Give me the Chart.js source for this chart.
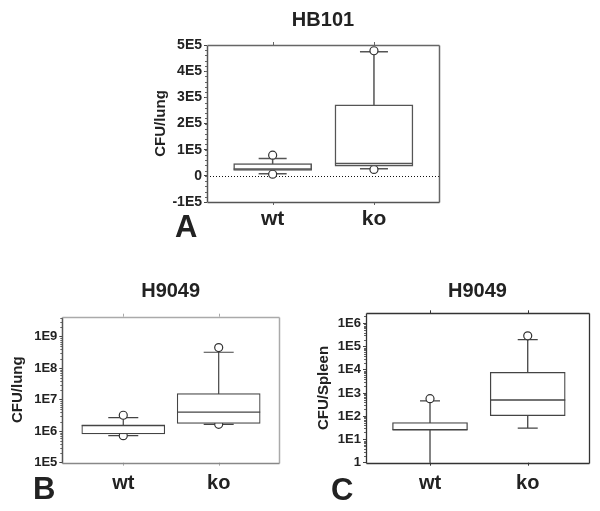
<!DOCTYPE html>
<html><head><meta charset="utf-8">
<script src="https://cdn.jsdelivr.net/npm/chart.js@4/dist/chart.umd.min.js"></script>
<style>
html,body{margin:0;padding:0;width:600px;height:511px;overflow:hidden;background:#fff;}
canvas{position:absolute;}
.lbl{position:absolute;font:bold 31px "Liberation Sans",Arial,sans-serif;line-height:31px;color:#222;}
</style></head><body>
<canvas id="cA" width="340" height="250" style="left:140px;top:0px"></canvas>
<canvas id="cB" width="300" height="241" style="left:0px;top:270px"></canvas>
<canvas id="cC" width="300" height="241" style="left:300px;top:270px"></canvas>
<div class="lbl" style="left:175px;top:211px">A</div>
<div class="lbl" style="left:33px;top:473px">B</div>
<div class="lbl" style="left:331px;top:474px">C</div>
<script>
// ---------- data ----------
const categories = ['wt', 'ko'];

// Panel A: HB101, CFU/lung (linear)
const aTitle = 'HB101';
const aYTitle = 'CFU/lung';
const aWhiskerLow  = [7800, 27200];
const aQ1          = [20600, 37300];
const aMedian      = [25700, 46700];
const aQ3          = [46700, 271000];
const aWhiskerHigh = [66100, 474000];
const aOutliers    = [[79000, 6200], [478000, 24500]];
const aYTicks      = [-100000, 0, 100000, 200000, 300000, 400000, 500000];
const aYTickLabels = ['-1E5', '0', '1E5', '2E5', '3E5', '4E5', '5E5'];

// Panel B: H9049, CFU/lung (log)
const bTitle = 'H9049';
const bYTitle = 'CFU/lung';
const bWhiskerLow  = [7.2e5, 1.65e6];
const bQ1          = [8.15e5, 1.78e6];
const bMedian      = [1.5e6, 4.0e6];
const bQ3          = [1.6e6, 1.55e7];
const bWhiskerHigh = [2.7e6, 3.2e8];
const bOutliers    = [[3.2e6, 7.2e5], [4.5e8, 1.65e6]];
const bYTicks      = [1e5, 1e6, 1e7, 1e8, 1e9];
const bYTickLabels = ['1E5', '1E6', '1E7', '1E8', '1E9'];

// Panel C: H9049, CFU/Spleen (log)
const cTitle = 'H9049';
const cYTitle = 'CFU/Spleen';
const cWhiskerLow  = [1, 31];
const cQ1          = [25.5, 105];
const cMedian      = [26, 500];
const cQ3          = [53, 7800];
const cWhiskerHigh = [455, 2.0e5];
const cOutliers    = [[570], [2.9e5]];
const cYTicks      = [1, 10, 100, 1000, 10000, 100000, 1000000];
const cYTickLabels = ['1', '1E1', '1E2', '1E3', '1E4', '1E5', '1E6'];

// ---------- drawing ----------
const FONT = '"Liberation Sans", Arial, sans-serif';
const TEXT = '#222';

function boxParts(p) {
  return {
    id: 'boxparts',
    beforeDatasetsDraw(chart) {
      const {ctx, chartArea: a, scales: {x, y}} = chart;
      ctx.save();
      if (p.zeroLine) {
        const py = Math.round(y.getPixelForValue(0)) + 0.5;
        ctx.strokeStyle = '#111'; ctx.lineWidth = 1; ctx.setLineDash([1, 2]);
        ctx.beginPath(); ctx.moveTo(a.left, py); ctx.lineTo(a.right, py); ctx.stroke();
        ctx.setLineDash([]);
      }
      ctx.strokeStyle = p.color; ctx.lineWidth = p.lw;
      categories.forEach((c, i) => {
        const px = x.getPixelForValue(i);
        const yl = y.getPixelForValue(p.low[i]);
        const yh = y.getPixelForValue(p.high[i]);
        ctx.beginPath();
        ctx.moveTo(px, yl); ctx.lineTo(px, yh);
        ctx.moveTo(px - p.cap / 2, yh); ctx.lineTo(px + p.cap / 2, yh);
        if (p.low[i] > y.min) { ctx.moveTo(px - p.cap / 2, yl); ctx.lineTo(px + p.cap / 2, yl); }
        ctx.stroke();
      });
      ctx.restore();
    },
    afterDatasetDraw(chart, args) {
      if (args.index !== 0) return;
      const {ctx, scales: {x, y}} = chart;
      const meta = chart.getDatasetMeta(0);
      ctx.save();
      ctx.strokeStyle = p.color; ctx.lineWidth = p.lw;
      categories.forEach((c, i) => {
        const bar = meta.data[i];
        const half = bar.width / 2;
        const py = y.getPixelForValue(p.median[i]);
        ctx.beginPath(); ctx.moveTo(bar.x - half, py); ctx.lineTo(bar.x + half, py); ctx.stroke();
      });
      ctx.restore();
    },
    afterDraw(chart) {
      const {ctx, chartArea: a, scales: {x, y}} = chart;
      ctx.save();
      // minor ticks on y axis
      ctx.strokeStyle = '#666'; ctx.lineWidth = 1;
      ctx.beginPath();
      p.minor.forEach(v => {
        if (v <= y.min || v >= y.max) return;
        const py = Math.round(y.getPixelForValue(v)) + 0.5;
        ctx.moveTo(a.left - 2, py); ctx.lineTo(a.left, py);
      });
      ctx.stroke();
      // category tick marks top & bottom
      ctx.strokeStyle = p.frame[2]; ctx.beginPath();
      categories.forEach((c, i) => {
        const px = Math.round(x.getPixelForValue(i)) + 0.5;
        ctx.moveTo(px, a.top); ctx.lineTo(px, a.top - 3);
        ctx.moveTo(px, a.bottom); ctx.lineTo(px, a.bottom + 3);
      });
      ctx.stroke();
      // frame: left, top, right, bottom
      const L = Math.round(a.left) + 0.5, R = Math.round(a.right) + 0.5;
      const T = Math.round(a.top) + 0.5, B = Math.round(a.bottom) + 0.5;
      const sides = [[L, T, L, B], [L, T, R, T], [R, T, R, B], [L, B, R, B]];
      sides.forEach((s, k) => {
        ctx.strokeStyle = p.frame[k]; ctx.lineWidth = p.frameW;
        ctx.beginPath(); ctx.moveTo(s[0], s[1]); ctx.lineTo(s[2], s[3]); ctx.stroke();
      });
      ctx.restore();
    }
  };
}

function makeChart(id, d) {
  return new Chart(document.getElementById(id), {
    type: 'bar',
    data: {
      datasets: [
        {
          type: 'bar',
          data: categories.map((c, i) => ({x: i, y: [d.q1[i], d.q3[i]]})),
          backgroundColor: '#fff',
          borderColor: d.color,
          borderWidth: d.lw,
          borderSkipped: false,
          barThickness: d.boxW,
          grouped: false
        },
        {
          type: 'scatter',
          data: d.outliers.flatMap((arr, i) => arr.map(v => ({x: i, y: v}))),
          showLine: false,
          pointRadius: 4,
          pointBackgroundColor: '#fff',
          pointBorderColor: '#333',
          pointBorderWidth: 1.2
        }
      ]
    },
    options: {
      responsive: false,
      animation: false,
      devicePixelRatio: 1,
      layout: {padding: d.pad},
      plugins: {
        legend: {display: false},
        tooltip: {enabled: false},
        title: {
          display: true, text: d.title, fullSize: false, color: TEXT,
          font: {family: FONT, size: 20, weight: 'bold'},
          padding: d.titlePad
        }
      },
      scales: {
        x: {
          type: 'linear', min: d.xMin, max: d.xMax, offset: false, bounds: 'data',
          afterBuildTicks: s => { s.ticks = categories.map((c, i) => ({value: i})); },
          afterFit: s => { s.height = 40; },
          ticks: {
            callback: (v, i) => categories[i], autoSkip: false, maxRotation: 0,
            color: TEXT, padding: d.xPadding,
            font: {family: FONT, size: d.xFont, weight: 'bold'}
          },
          grid: {display: false, drawTicks: false},
          border: {display: false}
        },
        y: {
          type: d.yType, min: d.yMin, max: d.yMax,
          afterBuildTicks: s => { s.ticks = d.yTicks.map(v => ({value: v})); },
          afterFit: s => { s.width = d.yW; },
          ticks: {
            callback: (v, i) => d.yTickLabels[i], autoSkip: false,
            color: TEXT, padding: 2,
            font: {family: FONT, size: d.yFont, weight: 'bold'}
          },
          grid: {drawOnChartArea: false, drawTicks: true, tickLength: 3, color: '#444'},
          border: {display: false},
          title: {
            display: true, text: d.yTitle, color: TEXT,
            font: {family: FONT, size: 15, weight: 'bold'},
            padding: {top: 4, bottom: 4}
          }
        }
      }
    },
    plugins: [boxParts({
      low: d.low, high: d.high, median: d.median, cap: d.cap, color: d.color, lw: d.lw,
      zeroLine: d.zeroLine, minor: d.minor, frame: d.frame, frameW: d.frameW
    })]
  });
}

function logMinors(k0, k1) {
  const out = [];
  for (let k = k0; k <= k1; k++) for (let m = 2; m <= 9; m++) out.push(m * Math.pow(10, k));
  return out;
}
function linMinors(lo, hi, step) {
  const out = [];
  for (let v = lo; v <= hi; v += step) out.push(v);
  return out;
}

makeChart('cA', {
  title: aTitle, yTitle: aYTitle, yType: 'linear', yMin: -100000, yMax: 500000,
  yTicks: aYTicks, yTickLabels: aYTickLabels,
  q1: aQ1, q3: aQ3, median: aMedian, low: aWhiskerLow, high: aWhiskerHigh, outliers: aOutliers,
  xMin: -0.648, xMax: 1.642, boxW: 78, cap: 28, color: '#555', lw: 1.5,
  pad: {left: 7.4, right: 41, top: 0, bottom: 8}, yW: 59.6,
  titlePad: {top: 8.3, bottom: 12.7}, xPadding: 5, xFont: 21, yFont: 14,
  zeroLine: true, minor: linMinors(-100000, 500000, 20000),
  frame: ['#555', '#666', '#666', '#555'], frameW: 1.5
});

makeChart('cB', {
  title: bTitle, yTitle: bYTitle, yType: 'logarithmic', yMin: 1e5, yMax: 4.3e9,
  yTicks: bYTicks, yTickLabels: bYTickLabels,
  q1: bQ1, q3: bQ3, median: bMedian, low: bWhiskerLow, high: bWhiskerHigh, outliers: bOutliers,
  xMin: -0.639, xMax: 1.632, boxW: 83, cap: 30, color: '#444', lw: 1.2,
  pad: {left: 5.1, right: 21, top: 0, bottom: 8.3}, yW: 57.2,
  titlePad: {top: 9.5, bottom: 13.2}, xPadding: 8.3, xFont: 20, yFont: 13,
  zeroLine: false, minor: logMinors(5, 9),
  frame: ['#555', '#aaa', '#aaa', '#888'], frameW: 1.5
});

makeChart('cC', {
  title: cTitle, yTitle: cYTitle, yType: 'logarithmic', yMin: 1, yMax: 2.7e6,
  yTicks: cYTicks, yTickLabels: cYTickLabels,
  q1: cQ1, q3: cQ3, median: cMedian, low: cWhiskerLow, high: cWhiskerHigh, outliers: cOutliers,
  xMin: -0.655, xMax: 1.627, boxW: 75, cap: 20, color: '#444', lw: 1.3,
  pad: {left: 10.7, right: 11, top: 0, bottom: 8.3}, yW: 55.3,
  titlePad: {top: 9.5, bottom: 9.8}, xPadding: 8.3, xFont: 20, yFont: 13,
  zeroLine: false, minor: logMinors(0, 6),
  frame: ['#333', '#333', '#333', '#333'], frameW: 1.3
});
</script>
</body></html>
